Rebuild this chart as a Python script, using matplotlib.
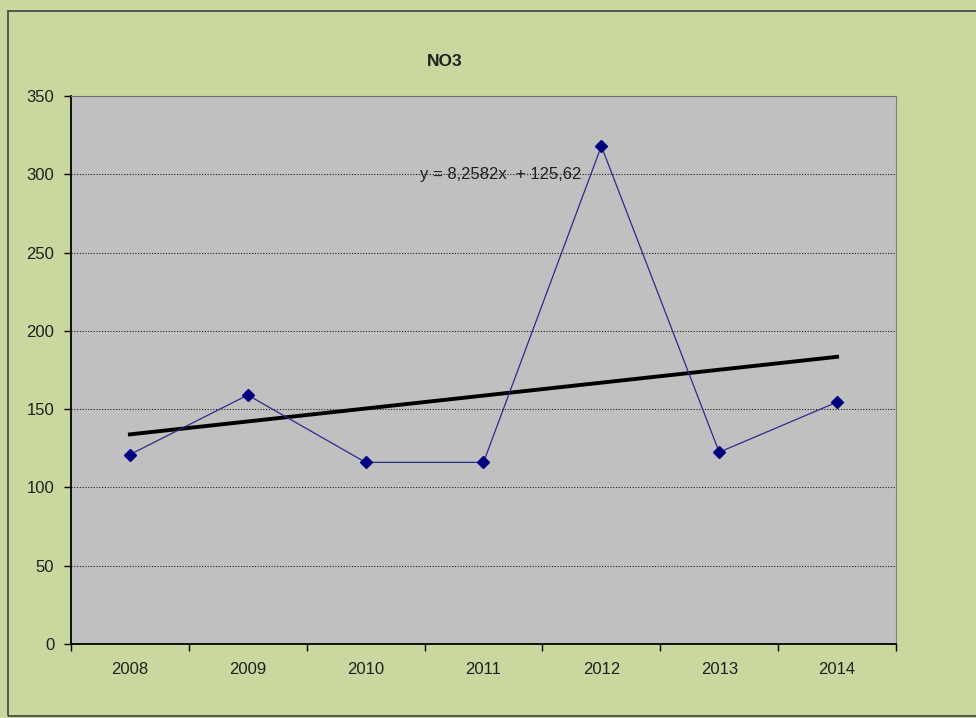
import matplotlib
matplotlib.use("Agg")
import matplotlib.pyplot as plt
from matplotlib.patches import Rectangle

years = ['2008', '2009', '2010', '2011', '2012', '2013', '2014']
no3 = [121, 159, 116, 116, 318, 122.5, 154.5]
trend_slope = 8.2582
trend_intercept = 125.62
y_ticks = [0, 50, 100, 150, 200, 250, 300, 350]

W, H = 976, 718
bg = '#c8d89e'
plt.rcParams['font.family'] = ['Liberation Sans', 'DejaVu Sans']

fig = plt.figure(figsize=(W / 100, H / 100), dpi=100, facecolor=bg)
# outer chart frame
fig.patches.append(Rectangle((8 / W, 1 - 716 / H), 1.0, (716 - 11) / H,
                             transform=fig.transFigure, fill=False,
                             edgecolor='#404040', linewidth=1.2))

ax = fig.add_axes([71 / W, 1 - 644 / H, (896 - 71) / W, (644 - 96) / H])
ax.set_facecolor('#c0c0c0')

x = list(range(1, len(years) + 1))
ax.plot(x, no3, color='#2b2b8c', linewidth=0.9, marker='D', markersize=6.5,
        markerfacecolor='#000080', markeredgecolor='#000080', zorder=3)

tx = [x[0], x[-1]]
ty = [trend_slope * v + trend_intercept for v in tx]
ax.plot(tx, ty, color='black', linewidth=2.8, zorder=2)

ax.set_xlim(0.5, len(years) + 0.5)
ax.set_ylim(0, 350)
ax.set_yticks(y_ticks)
ax.set_yticklabels([str(t) for t in y_ticks])
ax.set_xticks(x)
ax.set_xticklabels(years)
ax.set_xticks([v + 0.5 for v in range(0, len(years) + 1)], minor=True)
ax.tick_params(axis='x', which='major', length=0, pad=13, labelsize=12, colors='#202020')
ax.tick_params(axis='x', which='minor', length=5, width=1, direction='out', color='black')
ax.tick_params(axis='y', length=5, width=1, direction='out', pad=7, labelsize=12,
               color='black', labelcolor='#202020')

ax.grid(axis='y', color='#202020', linestyle=(0, (1, 1.5)), linewidth=0.8)
ax.set_axisbelow(True)

ax.spines['left'].set_color('black')
ax.spines['bottom'].set_color('black')
ax.spines['left'].set_linewidth(1.3)
ax.spines['bottom'].set_linewidth(1.3)
ax.spines['top'].set_color('#707070')
ax.spines['right'].set_color('#808080')

fig.text(445 / W, 1 - 62 / H, 'NO3', ha='center', va='center',
         fontsize=12.5, fontweight='bold', color='#202020')
ax.text(4.15, 300, 'y = 8,2582x  + 125,62', ha='center', va='center',
        fontsize=12, color='#202020', zorder=4)

fig.savefig('out.png', dpi=100, facecolor=bg)
